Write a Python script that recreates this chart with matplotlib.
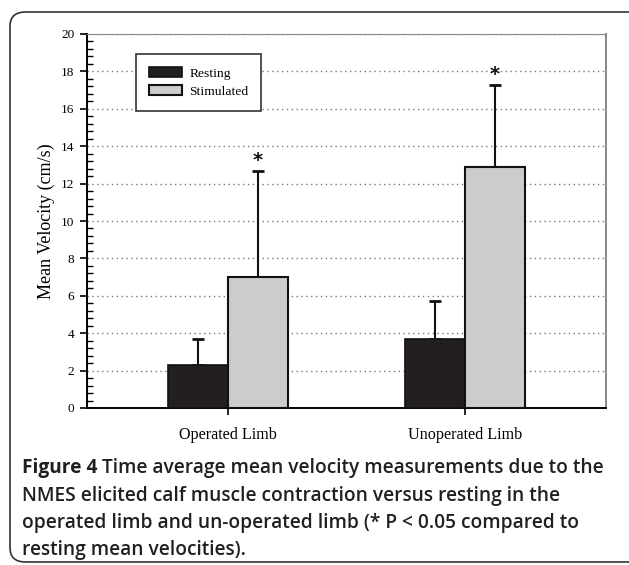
import numpy as np
import matplotlib.pyplot as plt
from matplotlib.patches import FancyBboxPatch
from matplotlib.ticker import MultipleLocator

categories = ["Operated Limb", "Unoperated Limb"]
resting = [2.3, 3.7]
resting_sd = [1.4, 2.0]
stimulated = [7.0, 12.9]
stimulated_sd = [5.7, 4.35]
series_names = ["Resting", "Stimulated"]

caption_bold = "Figure 4"
caption_lines = [
    " Time average mean velocity measurements due to the",
    "NMES elicited calf muscle contraction versus resting in the",
    "operated limb and un-operated limb (* P < 0.05 compared to",
    "resting mean velocities).",
]

serif = "Liberation Serif"
fig = plt.figure(figsize=(6.29, 5.65), dpi=100)

# rounded frame around the whole figure
frame = FancyBboxPatch((10 / 629, 3 / 565), 640 / 629, 550 / 565,
                       boxstyle="round,pad=0,rounding_size=0.025",
                       transform=fig.transFigure, fill=False,
                       ec="#333333", lw=1.2)
fig.patches.append(frame)

ax = fig.add_axes([87 / 629, 1 - 408 / 565, 519 / 629, 374 / 565])
x = np.arange(len(categories))
w = 0.253
ax.bar(x - w / 2, resting, w, color="#231f20", edgecolor="#111111", lw=1.2,
       label=series_names[0], zorder=3)
ax.bar(x + w / 2, stimulated, w, color="#cbccce", edgecolor="#111111", lw=1.5,
       label=series_names[1], zorder=3)
ax.errorbar(x - w / 2, resting, yerr=[np.zeros(2), resting_sd], fmt="none",
            ecolor="#111111", elinewidth=1.5, capsize=4.5, capthick=2, zorder=2)
ax.errorbar(x + w / 2, stimulated, yerr=[np.zeros(2), stimulated_sd], fmt="none",
            ecolor="#111111", elinewidth=1.5, capsize=4.5, capthick=2, zorder=2)
for xi, v, s in zip(x, stimulated, stimulated_sd):
    ax.text(xi + w / 2, v + s + 0.05, "*", ha="center", va="bottom",
            fontsize=14, fontweight="bold", color="#111111")

ax.set_xlim(-0.595, 1.595)
ax.set_ylim(0, 20)
ax.yaxis.set_major_locator(MultipleLocator(2))
ax.yaxis.set_minor_locator(MultipleLocator(0.4))
ax.set_xticks(x)
ax.set_xticklabels(categories, family=serif, fontsize=11.6)
ax.tick_params(axis="y", which="major", direction="out", length=5,
               width=1.2, labelsize=9.5, pad=4)
ax.tick_params(axis="y", which="minor", direction="in", length=4, width=1)
ax.tick_params(axis="x", direction="out", length=5, width=1.2, pad=9)
for lab in ax.get_yticklabels():
    lab.set_family(serif)
ax.set_ylabel("Mean Velocity (cm/s)", family=serif, fontsize=13)
ax.yaxis.set_label_coords(-0.062, 0.5)
ax.grid(axis="y", ls=(0, (1, 2.5)), color="#777777", lw=1, zorder=0)
ax.spines["left"].set_linewidth(1.4)
ax.spines["bottom"].set_linewidth(1.4)
ax.spines["top"].set_color("#888888")
ax.spines["right"].set_color("#888888")
ax.spines["right"].set_linewidth(1.4)

leg = ax.legend(loc="upper left", bbox_to_anchor=((136 - 87) / 519, (408 - 54) / 374),
                borderaxespad=0, prop={"family": serif, "size": 9.7},
                fancybox=False, framealpha=1, edgecolor="#333333",
                handlelength=2.5, handleheight=0.8, handletextpad=0.5,
                borderpad=0.95, labelspacing=0.4)
leg.get_frame().set_linewidth(1.2)
leg.set_zorder(5)

# caption
cap = fig.add_axes([0, 0, 1, 1])
cap.set_axis_off()
cfont = "Open Sans"
csize = 13.8
ys = [473, 500.5, 528, 555.5]
b = cap.text(22 / 629, 1 - ys[0] / 565, caption_bold, fontsize=csize,
             fontweight="bold", family=cfont, va="baseline", ha="left",
             color="#231f20")
cap.annotate(caption_lines[0], xy=(1, 0), xycoords=b, va="bottom",
             ha="left", fontsize=csize, family=cfont, color="#231f20",
             fontweight=600)
for yy, line in zip(ys[1:], caption_lines[1:]):
    cap.text(22 / 629, 1 - yy / 565, line, fontsize=csize, family=cfont,
             va="baseline", ha="left", color="#231f20", fontweight=600)

fig.savefig("out.png", dpi=100)
